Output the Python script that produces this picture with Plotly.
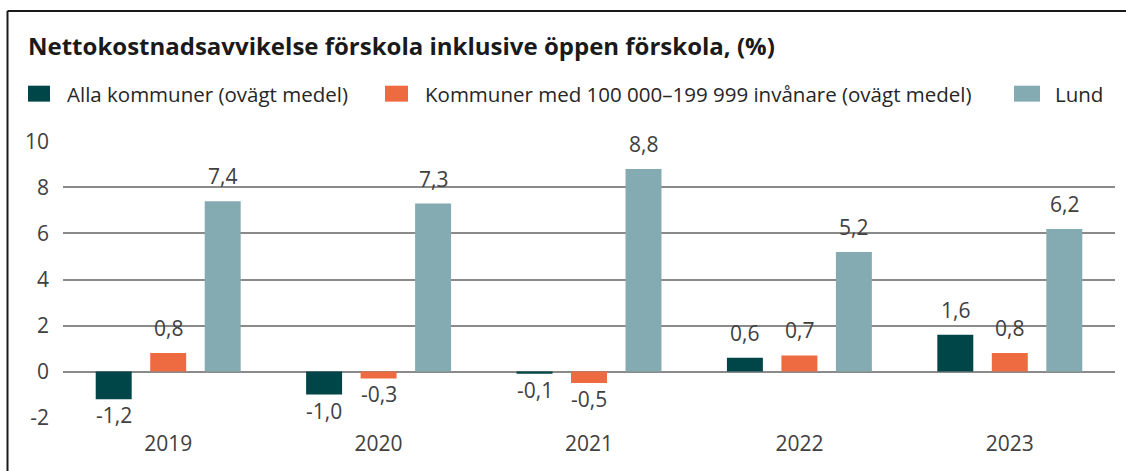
import plotly.graph_objects as go

years = ["2019", "2020", "2021", "2022", "2023"]
alla = [-1.2, -1.0, -0.1, 0.6, 1.6]
kommuner_100k = [0.8, -0.3, -0.5, 0.7, 0.8]
lund = [7.4, 7.3, 8.8, 5.2, 6.2]
series_names = [
    "Alla kommuner (ovägt medel)",
    "Kommuner med 100 000–199 999 invånare (ovägt medel)",
    "Lund",
]
colors = ["#004547", "#EE6A40", "#84AAB2"]
ytick_vals = [-2, 0, 2, 4, 6, 8, 10]
ytick_text = ["-2", "0", "2", "4", "6", "8", "10"]
title = "Nettokostnadsavvikelse förskola inklusive öppen förskola, (%)"

W, H = 1126, 471
ML, MR = 63, 11
PT, PB = 140.5, 418.5
FONT = "Open Sans"
BARGAP, GROUPGAP = 0.223, 0.34

def px_x(p):
    return (p - ML) / (W - ML - MR)

def px_y(p):
    return (PB - p) / (PB - PT)

def fmt(v):
    return f"{v:.1f}".replace(".", ",")

fig = go.Figure()
all_series = [alla, kommuner_100k, lund]
nser = len(all_series)
for i, (name, vals, col) in enumerate(zip(series_names, all_series, colors)):
    fig.add_trace(go.Bar(
        x=years, y=vals, name=name, marker=dict(color=col, line=dict(width=0)),
        showlegend=False, offsetgroup=str(i),
    ))
    # data labels placed on the category axis at the bar's group slot
    slot = (1 - BARGAP) / nser
    off = -(1 - BARGAP) / 2 + slot * (i + 0.5)
    for k, v in enumerate(vals):
        fig.add_annotation(
            x=k + off, y=v, xref="x", yref="y", text=fmt(v), showarrow=False,
            xanchor="center", yanchor="bottom" if v >= 0 else "top",
            yshift=9 if v >= 0 else 0,
            font=dict(family=FONT, size=21, color="#404040"),
        )

# frame lines
fx, fy = px_x(7.5), px_y(10)
fig.add_shape(type="line", xref="paper", yref="paper", x0=fx, x1=fx, y0=px_y(480), y1=fy,
              line=dict(color="#1a1a1a", width=2))
fig.add_shape(type="line", xref="paper", yref="paper", x0=fx, x1=px_x(1130), y0=fy, y1=fy,
              line=dict(color="#1a1a1a", width=2))

# legend (manual swatches + labels)
leg_sw = [(28, 50), (385, 408), (1014, 1040)]
leg_tx = [65, 423, 1053]
for (a, b), t, name, col in zip(leg_sw, leg_tx, series_names, colors):
    fig.add_shape(type="rect", xref="paper", yref="paper", x0=px_x(a), x1=px_x(b),
                  y0=px_y(101), y1=px_y(85), fillcolor=col, line=dict(width=0))
    fig.add_annotation(xref="paper", yref="paper", x=px_x(t), y=px_y(93), text=name,
                       showarrow=False, xanchor="left", yanchor="middle",
                       font=dict(family=FONT, size=20.5, color="#262626"))

fig.update_layout(
    width=W, height=H,
    margin=dict(l=ML, r=MR, t=PT, b=H - PB, pad=0),
    paper_bgcolor="white", plot_bgcolor="white",
    barmode="group", bargap=BARGAP, bargroupgap=GROUPGAP,
    title=dict(text="<b>" + title + "</b>", x=28 / W, xanchor="left", y=1 - 47 / H,
               yanchor="middle", font=dict(family=FONT, size=24, color="#1a1a1a")),
    font=dict(family=FONT, size=21, color="#404040"),
)
fig.update_xaxes(showgrid=False, showline=False, ticks="", ticklabelstandoff=11,
                 tickfont=dict(family=FONT, size=21, color="#404040"))
fig.update_yaxes(range=[-2.02, 10.02], tickvals=ytick_vals, ticktext=ytick_text,
                 showgrid=True, gridcolor="#8a8a8a", gridwidth=1.6,
                 zeroline=True, zerolinecolor="#8a8a8a", zerolinewidth=1.6,
                 showline=False, ticks="", ticklabelstandoff=13,
                 tickfont=dict(family=FONT, size=21, color="#404040"))

fig.write_html("out.html", config={"displayModeBar": False},
               post_script="document.body.style.margin='0';")
